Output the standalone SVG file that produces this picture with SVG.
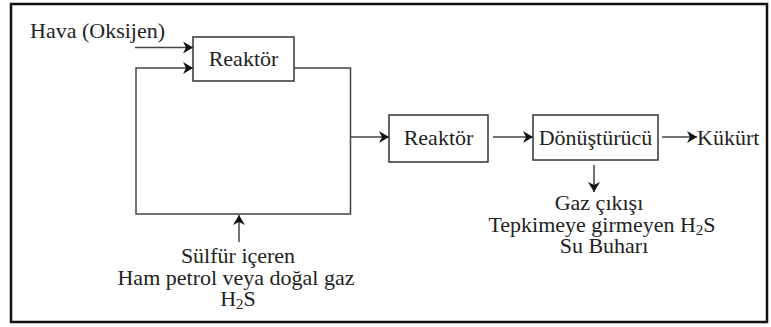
<svg xmlns="http://www.w3.org/2000/svg" width="771" height="327" viewBox="0 0 771 327">
  <style>
    text { font-family: "Liberation Serif", "Times New Roman", serif; font-size: 22px; fill: #222; }
    .mid { text-anchor: middle; }
    .box { fill: #fff; stroke: #333; stroke-width: 1.5; }
    .line { fill: none; stroke: #444; stroke-width: 1.5; }
    .arr { fill: none; stroke: #444; stroke-width: 1.5; marker-end: url(#ah); }
    .sub { font-size: 15px; }
  </style>
  <defs>
    <marker id="ah" markerUnits="userSpaceOnUse" markerWidth="11" markerHeight="12" refX="10" refY="6" orient="auto">
      <path d="M0,0 L10,6 L0,12 L3,6 z" fill="#111"/>
    </marker>
  </defs>
  <rect x="0" y="0" width="771" height="327" fill="#fff"/>
  <rect id="frame" x="11" y="4" width="756" height="318" fill="none" stroke="#111" stroke-width="2.5"/>

  <g id="connectors">
    <line class="arr" x1="135" y1="47.5" x2="193" y2="47.5"/>
    <path class="arr" d="M294,68 H350.5 V214 H136 V68 H193"/>
    <line class="arr" x1="350.5" y1="137" x2="389" y2="137"/>
    <line class="arr" x1="493" y1="137" x2="533" y2="137"/>
    <line class="arr" x1="662" y1="137" x2="697" y2="137"/>
    <line class="arr" x1="594" y1="165" x2="594" y2="192"/>
    <line class="arr" x1="239" y1="242" x2="239" y2="215"/>
  </g>

  <g id="hava">
    <text x="30" y="38">Hava (Oksijen)</text>
  </g>

  <g id="reaktor1">
    <rect class="box" x="193" y="37" width="101" height="44"/>
    <text class="mid" x="243.5" y="66">Reaktör</text>
  </g>

  <g id="reaktor2">
    <rect class="box" x="389" y="115" width="99" height="47"/>
    <text class="mid" x="438.5" y="145">Reaktör</text>
  </g>

  <g id="donusturucu">
    <rect class="box" x="533" y="115" width="125" height="45"/>
    <text class="mid" x="595.5" y="145">Dönüştürücü</text>
  </g>

  <g id="kukurt">
    <text x="697" y="145">Kükürt</text>
  </g>

  <g id="gaz-cikisi">
    <text class="mid" x="599" y="210">Gaz çıkışı</text>
    <text class="mid" x="602" y="232">Tepkimeye girmeyen H<tspan class="sub" dy="3">2</tspan><tspan dy="-3">S</tspan></text>
    <text class="mid" x="604" y="253">Su Buharı</text>
  </g>

  <g id="besleme">
    <text class="mid" x="238" y="263">Sülfür içeren</text>
    <text class="mid" x="236" y="285">Ham petrol veya doğal gaz</text>
    <text class="mid" x="238" y="306">H<tspan class="sub" dy="3">2</tspan><tspan dy="-3">S</tspan></text>
  </g>
</svg>
